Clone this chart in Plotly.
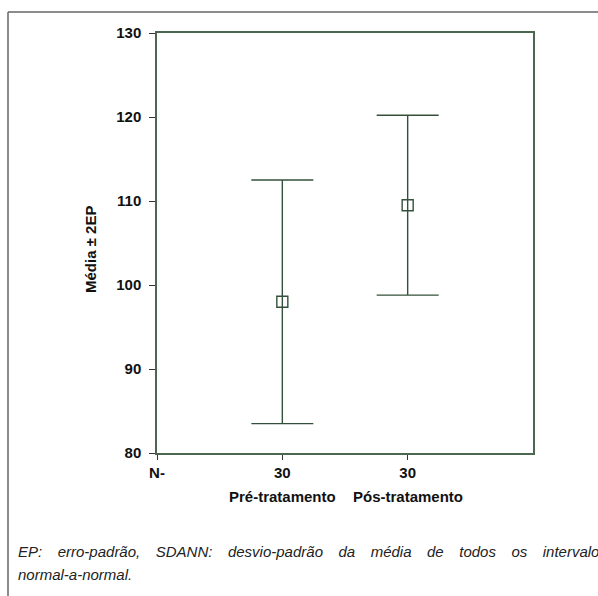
import plotly.graph_objects as go

# ---- data ----
categories = ["Pré-tratamento", "Pós-tratamento"]
n_values = [30, 30]
means = [98.0, 109.5]
err_2ep = [14.5, 10.7]
y_ticks = [80, 90, 100, 110, 120, 130]
x_positions = [1, 2]
caption_line1 = "EP: erro-padrão, SDANN: desvio-padrão da média de todos os intervalos"
caption_line2 = "normal-a-normal."

W, H = 598, 596
L, R, T, B = 157, 533, 33, 453  # plot area pixels
FONT = "Liberation Sans Narrow, Arial Narrow, Liberation Sans, Arial, sans-serif"
GREEN = "#34503a"
AXIS = "#4d6650"


def px_x(px):
    return (px - L) / (R - L)


def px_y(py):
    return (B - py) / (B - T)


fig = go.Figure()
fig.add_trace(go.Scatter(
    x=x_positions, y=means, mode="markers",
    marker=dict(symbol="square-open", size=11, color=GREEN, line=dict(width=1.4, color=GREEN)),
    error_y=dict(type="data", array=err_2ep, symmetric=True, color=GREEN,
                 thickness=1.4, width=31),
    showlegend=False, hoverinfo="skip",
))

tickvals = [0] + x_positions
ticktext = ["N-"] + [str(v) for v in n_values]

fig.update_layout(
    width=W, height=H,
    margin=dict(l=L, r=W - R, t=T, b=H - B),
    paper_bgcolor="white", plot_bgcolor="white",
    font=dict(family=FONT, size=15, color="#111"),
    xaxis=dict(range=[0, 3], tickvals=tickvals, ticktext=ticktext,
               showgrid=False, zeroline=False, showline=True, mirror=True,
               linecolor=AXIS, linewidth=1.5, ticks="outside", ticklen=5,
               tickcolor="#333", tickwidth=1,
               tickfont=dict(family=FONT, size=15, color="#111", weight="bold")),
    yaxis=dict(range=[80, 130], tickvals=y_ticks, showgrid=False, zeroline=False,
               showline=True, mirror=True, linecolor=AXIS, linewidth=1.5,
               ticks="outside", ticklen=6, tickcolor="#333", tickwidth=1,
               ticklabelstandoff=5,
               tickfont=dict(family=FONT, size=15, color="#111", weight="bold")),
)

# category names under the N row
for xp, cat in zip(x_positions, categories):
    fig.add_annotation(x=xp, xref="x", y=px_y(496), yref="paper", text=f"<b>{cat}</b>",
                       showarrow=False, xanchor="center", yanchor="middle",
                       font=dict(family=FONT, size=15, color="#111"))

# y axis title
fig.add_annotation(x=px_x(91), xref="paper", y=px_y(250), yref="paper",
                   text="<b>Média ± 2EP</b>", textangle=-90, showarrow=False,
                   xanchor="center", yanchor="middle",
                   font=dict(family=FONT, size=15, color="#111"))

# caption (justified look: widened gaps)
gap = "&nbsp;&nbsp;&nbsp;&#8201;"
fig.add_annotation(x=px_x(16), xref="paper", y=px_y(551), yref="paper",
                   text="<i>" + gap.join(caption_line1.split(" ")) + "</i>",
                   showarrow=False, xanchor="left", yanchor="middle",
                   font=dict(family=FONT, size=15, color="#222"))
fig.add_annotation(x=px_x(16), xref="paper", y=px_y(574), yref="paper",
                   text="<i>" + caption_line2 + "</i>",
                   showarrow=False, xanchor="left", yanchor="middle",
                   font=dict(family=FONT, size=15, color="#222"))

# outer frame (top and left edges visible)
fig.add_shape(type="line", xref="paper", yref="paper", x0=px_x(8), x1=px_x(620),
              y0=px_y(12), y1=px_y(12), line=dict(color="#666", width=1.5))
fig.add_shape(type="line", xref="paper", yref="paper", x0=px_x(8), x1=px_x(8),
              y0=px_y(12), y1=px_y(620), line=dict(color="#666", width=1.5))

fig.write_html("out.html", config={"displayModeBar": False},
               post_script="document.body.style.margin='0';document.body.style.overflow='hidden';")
